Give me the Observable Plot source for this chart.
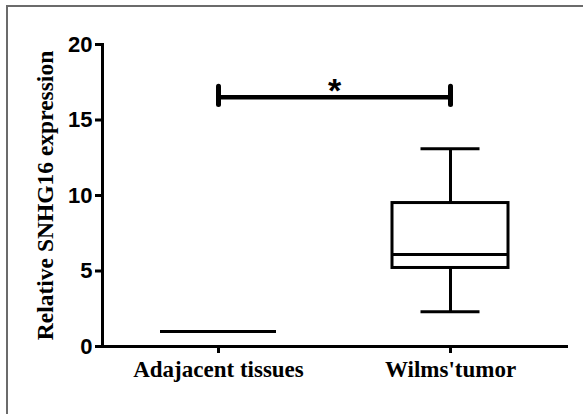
<!DOCTYPE html>
<html><head><meta charset="utf-8">
<script src="https://cdn.jsdelivr.net/npm/d3@7"></script>
<script src="https://cdn.jsdelivr.net/npm/@observablehq/plot@0.6"></script>
<style>
body{margin:0;background:#fff;}
#wrap{position:relative;width:583px;height:414px;overflow:hidden;background:#fff;}
#border{position:absolute;left:6px;top:5px;width:700px;height:500px;border-left:2px solid #6b6b6b;border-top:2px solid #6b6b6b;}
#chart{position:absolute;left:0;top:0;}
</style></head><body><div id="wrap"><div id="border"></div><div id="chart"></div></div>
<script>
const categories = ["Adajacent tissues", "Wilms'tumor"];
const whiskerLow  = [1, 2.3];
const q1          = [1, 5.2];
const median      = [1, 6.1];
const q3          = [1, 9.5];
const whiskerHigh = [1, 13.1];
const yTicks = [0, 5, 10, 15, 20];
const sigLevel = [16.5];
const sigTickLow = [16.0];
const sigTickHigh = [17.2];
const sigLabel = ["*"];
const sigLabelY = [16.9];

const rows = categories.map((c, i) => ({
  cat: c, lo: whiskerLow[i], q1: q1[i], med: median[i], q3: q3[i], hi: whiskerHigh[i]
}));
const sigRows = categories.map(c => ({cat: c, y: sigLevel[0], y1: sigTickLow[0], y2: sigTickHigh[0]}));

const chart = Plot.plot({
  width: 583, height: 414,
  marginLeft: 102, marginRight: 17, marginTop: 44, marginBottom: 68,
  style: {background: "transparent", overflow: "visible", color: "black"},
  x: {type: "band", domain: categories, padding: 0},
  y: {domain: [0, 20]},
  marks: [
    Plot.axisY({ticks: yTicks, tickSize: 7, tickPadding: 3, strokeWidth: 3, fontSize: 22, fontWeight: "bold",
      fontFamily: "Liberation Sans, Arial, sans-serif", fill: "black", label: null}),
    Plot.axisY({ticks: [], tickSize: 0, label: "Relative SNHG16 expression", labelAnchor: "center", labelArrow: "none",
      labelOffset: 66, fontFamily: "Liberation Serif, Times New Roman, serif", fontWeight: "bold", fontSize: 23.5, fill: "black"}),
    Plot.axisX({tickSize: 7, tickPadding: 7, strokeWidth: 3, fontSize: 23, fontWeight: "bold",
      fontFamily: "Liberation Serif, Times New Roman, serif", fill: "black", label: null}),
    Plot.frame({anchor: "left", strokeWidth: 3, strokeLinecap: "square"}),
    Plot.frame({anchor: "bottom", strokeWidth: 3, strokeLinecap: "square"}),
    // whiskers
    Plot.ruleX(rows, {x: "cat", y1: "lo", y2: "q1", strokeWidth: 3}),
    Plot.ruleX(rows, {x: "cat", y1: "q3", y2: "hi", strokeWidth: 3}),
    Plot.tickY(rows, {x: "cat", y: "lo", strokeWidth: 3, insetLeft: 86.5, insetRight: 86.5}),
    Plot.tickY(rows, {x: "cat", y: "hi", strokeWidth: 3, insetLeft: 86.5, insetRight: 86.5}),
    // box
    Plot.barY(rows, {x: "cat", y1: "q1", y2: "q3", fill: "white", stroke: "black", strokeWidth: 3, insetLeft: 58, insetRight: 58}),
    Plot.tickY(rows, {x: "cat", y: "med", strokeWidth: 3, insetLeft: 58, insetRight: 58}),
    // significance
    Plot.line(sigRows, {x: "cat", y: "y", strokeWidth: 4.5}),
    Plot.ruleX(sigRows, {x: "cat", y1: "y1", y2: "y2", strokeWidth: 5, strokeLinecap: "round"}),
    Plot.text(sigLabel, {text: d => d, y: () => sigLabelY[0], fontSize: 34, fontWeight: "bold",
      fontFamily: "Liberation Sans, Arial, sans-serif", fill: "black", lineAnchor: "middle"})
  ]
});
document.getElementById("chart").appendChild(chart);
</script>
</body></html>
